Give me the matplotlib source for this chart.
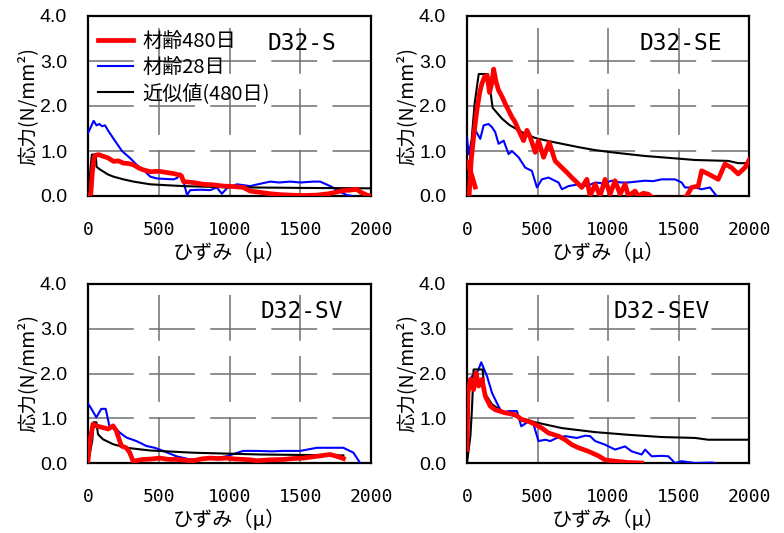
import numpy as np
import matplotlib
matplotlib.use('Agg')
import matplotlib.pyplot as plt

plt.rcParams['font.family'] = ['Noto Sans CJK JP', 'DejaVu Sans']

nan = np.nan

# D32-S
s_red_x = [0, 20, 30, 40, 50, 75, 110, 140, 180, 215, 250, 290, 322, 360, 392, 440, 500, 560, 604, 640, 660, 675,
           740, 816, 880, 958, 1030, 1099, 1146, 1220, 1288, 1360, 1430, 1520, 1617, 1700, 1759, 1800, 1853, 1900,
           1924, 1971, 2000]
s_red_y = [0.0, 0.05, 0.5, 0.8, 0.9, 0.92, 0.88, 0.85, 0.77, 0.78, 0.73, 0.72, 0.69, 0.62, 0.58, 0.54, 0.55, 0.52,
           0.50, 0.47, 0.45, 0.32, 0.30, 0.26, 0.25, 0.22, 0.21, 0.19, 0.11, 0.08, 0.05, 0.03, 0.02, 0.01, 0.02, 0.05,
           0.09, 0.12, 0.13, 0.15, 0.09, 0.02, 0.0]
s_blue_x = [0, 15, 40, 60, 80, 100, 120, 145, 192, 240, 298, 345, 392, 440, 487, 540, 604, 630, 651, 675, 700, 722,
            800, 863, 910, 946, 981, 1052, 1100, 1146, 1200, 1288, 1350, 1430, 1500, 1594, 1640, 1712, 1783, 1830, 1870]
s_blue_y = [1.4, 1.5, 1.67, 1.57, 1.6, 1.55, 1.57, 1.44, 1.22, 1.0, 0.84, 0.69, 0.58, 0.43, 0.39, 0.38, 0.37, 0.40,
            0.50, 0.32, 0.02, 0.13, 0.14, 0.13, 0.19, 0.05, 0.17, 0.26, 0.24, 0.22, 0.26, 0.32, 0.30, 0.32, 0.30, 0.32,
            0.32, 0.22, 0.09, 0.02, 0.0]
s_fit_x = [0, 27, 55, 60, 80, 110, 140, 180, 250, 322, 380, 440, 550, 675, 900, 1146, 1500, 2020]
s_fit_y = [0.0, 0.92, 0.92, 0.65, 0.6, 0.54, 0.48, 0.43, 0.37, 0.32, 0.29, 0.26, 0.24, 0.22, 0.2, 0.19, 0.18, 0.17]

# D32-SE
se_red_x = [0, 30, 58, nan, 15, 30, 50, 70, 90, 106, 125, 142, 160, 175, 189, 205, 224, 250, 271, 295, 319, 340,
            366, 401, 425, 448, 484, 507, 543, 583, 625, 673, 710, 743, 780, 814, 850, 873, 909, 944, 979, 1015,
            1050, 1086, 1121, 1145, 1192, 1215, 1250, 1286, 1320, 1540, 1558, 1593, 1640, 1664, 1711, 1782, 1829,
            1876, 1923, 1971, 2010]
se_red_y = [0.75, 0.5, 0.2, nan, 0.0, 0.8, 1.4, 1.9, 2.3, 2.5, 2.65, 2.68, 2.3, 2.5, 2.82, 2.55, 2.35, 2.2, 2.05,
            1.9, 1.75, 1.65, 1.46, 1.23, 1.46, 1.31, 0.97, 1.23, 0.86, 1.19, 0.78, 0.63, 0.52, 0.41, 0.3, 0.19,
            0.37, 0.0, 0.26, 0.0, 0.37, 0.04, 0.34, 0.04, 0.26, 0.0, 0.11, 0.0, 0.06, 0.04, -0.05, -0.05, 0.0,
            0.19, 0.22, 0.56, 0.49, 0.37, 0.71, 0.63, 0.49, 0.63, 0.85]
se_blue_x = [0, 12, 30, 59, 94, 118, 153, 177, 200, 224, 260, 295, 319, 366, 413, 460, 496, 531, 578, 649, 673,
             720, 791, 850, 909, 970, 1027, 1090, 1145, 1200, 1263, 1320, 1381, 1475, 1522, 1546, 1617, 1664,
             1723, 1770]
se_blue_y = [1.3, 0.93, 1.2, 1.46, 1.27, 1.57, 1.6, 1.53, 1.42, 1.16, 1.23, 0.93, 1.0, 0.86, 0.63, 0.56, 0.19,
             0.37, 0.41, 0.3, 0.15, 0.22, 0.26, 0.22, 0.30, 0.28, 0.34, 0.30, 0.30, 0.32, 0.34, 0.33, 0.37, 0.37,
             0.3, 0.19, 0.19, 0.15, 0.19, 0.0]
se_fit_x = [0, 54, 83, 149, 182, 248, 300, 366, 420, 484, 580, 673, 800, 909, 1030, 1145, 1260, 1381, 1500, 1617,
            1853, 1923, 2010]
se_fit_y = [0.0, 2.05, 2.71, 2.71, 1.96, 1.72, 1.58, 1.46, 1.37, 1.29, 1.22, 1.16, 1.08, 1.02, 0.97, 0.93, 0.89,
            0.86, 0.83, 0.80, 0.78, 0.73, 0.73]

# D32-SV
sv_red_x = [0, 10, 20, 35, 59, 94, 120, 142, 177, 200, 236, 271, 295, 319, 389, 450, 507, 570, 625, 690, 743, 800,
            861, 920, 979, 1040, 1097, 1150, 1192, 1280, 1381, 1450, 1522, 1617, 1711, 1758, 1805]
sv_red_y = [0.05, 0.4, 0.6, 0.87, 0.83, 0.80, 0.78, 0.76, 0.83, 0.72, 0.38, 0.34, 0.23, 0.04, 0.08, 0.09, 0.11,
            0.08, 0.08, 0.06, 0.05, 0.09, 0.11, 0.10, 0.11, 0.09, 0.08, 0.07, 0.05, 0.07, 0.08, 0.10, 0.11, 0.15,
            0.19, 0.15, 0.10]
sv_blue_x = [0, 24, 59, 94, 125, 153, 200, 224, 271, 342, 413, 472, 531, 625, 720, 800, 909, 979, 1097, 1192, 1300,
             1381, 1499, 1617, 1711, 1805, 1876, 1923]
sv_blue_y = [1.33, 1.21, 1.02, 1.21, 1.21, 0.80, 0.76, 0.68, 0.57, 0.49, 0.38, 0.34, 0.27, 0.15, 0.08, 0.08, 0.11,
             0.15, 0.27, 0.27, 0.26, 0.27, 0.27, 0.34, 0.34, 0.34, 0.23, 0.0]
sv_fit_x = [0, 30, 40, 59, 71, 106, 177, 271, 437, 743, 1215, 1805]
sv_fit_y = [0, 0.5, 0.91, 0.91, 0.64, 0.53, 0.42, 0.34, 0.28, 0.23, 0.19, 0.17]

# D32-SEV
sev_red_x = [0, 7, 24, 47, 64, 83, 106, 130, 165, 200, 271, 342, 389, 437, 484, 531, 578, 649, 696, 743, 791, 861,
             932, 979, 1050, 1145, 1239]
sev_red_y = [0.3, 1.57, 1.87, 1.64, 2.01, 1.72, 1.87, 1.49, 1.27, 1.19, 1.12, 1.08, 0.97, 0.93, 0.86, 0.78, 0.67,
             0.6, 0.52, 0.41, 0.34, 0.26, 0.16, 0.07, 0.04, 0.01, 0.0]
sev_blue_x = [0, 12, 35, 71, 101, 142, 177, 212, 248, 295, 354, 385, 437, 472, 507, 555, 590, 637, 696, 779, 838,
              873, 909, 979, 1050, 1121, 1168, 1239, 1263, 1310, 1381, 1428, 1475, 1522, 1617, 1735, 1760]
sev_blue_y = [0.3, 1.79, 1.94, 2.01, 2.25, 1.94, 1.57, 1.34, 1.12, 1.16, 1.16, 0.82, 0.93, 0.86, 0.49, 0.52, 0.49,
              0.56, 0.60, 0.56, 0.61, 0.6, 0.49, 0.41, 0.3, 0.37, 0.26, 0.19, 0.3, 0.15, 0.16, 0.15, 0.0, 0.04, 0.0,
              0.01, 0.0]
sev_fit_x = [0, 24, 35, 47, 111, 125, 177, 248, 342, 484, 673, 909, 1145, 1381, 1617, 1711, 2010]
sev_fit_y = [0, 0.6, 1.2, 2.09, 2.09, 1.57, 1.31, 1.16, 1.04, 0.91, 0.78, 0.69, 0.63, 0.58, 0.56, 0.52, 0.52]

panels = [
    ('D32-S', s_red_x, s_red_y, s_blue_x, s_blue_y, s_fit_x, s_fit_y),
    ('D32-SE', se_red_x, se_red_y, se_blue_x, se_blue_y, se_fit_x, se_fit_y),
    ('D32-SV', sv_red_x, sv_red_y, sv_blue_x, sv_blue_y, sv_fit_x, sv_fit_y),
    ('D32-SEV', sev_red_x, sev_red_y, sev_blue_x, sev_blue_y, sev_fit_x, sev_fit_y),
]
label_pos = [(0.636, 0.845), (0.613, 0.845), (0.608, 0.844), (0.518, 0.844)]

W, H = 784, 533
boxes = [(88, 16, 283, 180), (467, 16, 282, 180), (88, 284, 283, 179), (467, 284, 282, 179)]

fig = plt.figure(figsize=(W / 100, H / 100), dpi=100)

for i, (name, rx, ry, bx, by, fx, fy) in enumerate(panels):
    l, t, w, h = boxes[i]
    ax = fig.add_axes([l / W, (H - t - h) / H, w / W, h / H])
    ax.plot(bx, by, color='#0000ff', lw=1.5, label='材齢28日', zorder=3)
    ax.plot(fx, fy, color='black', lw=1.5, label='近似値(480日)', zorder=4)
    ax.plot(rx, ry, color='#ff0000', lw=3.4, label='材齢480日', zorder=5)
    ax.set_xlim(0, 2000)
    ax.set_ylim(0, 4.0)
    ax.set_xticks([0, 500, 1000, 1500, 2000])
    ax.set_yticks([0, 1, 2, 3, 4])
    ax.set_yticklabels(['0.0', '1.0', '2.0', '3.0', '4.0'], family='Liberation Sans', fontsize=14)
    ax.set_xticklabels(['0', '500', '1000', '1500', '2000'], family='DejaVu Sans Mono', fontsize=13)
    ax.tick_params(length=0)
    ax.tick_params(axis='y', pad=15)
    ax.tick_params(axis='x', pad=18)
    ax.grid(True, color='#707070', lw=1.1, linestyle=(0, (30, 10)))
    ax.set_axisbelow(True)
    for sp in ax.spines.values():
        sp.set_linewidth(1.6)
        sp.set_color('black')
    ax.set_xlabel('ひずみ（μ）', fontsize=14.5, labelpad=3)
    ax.set_ylabel('応力(N/mm²)', fontsize=14, labelpad=1)
    ax.text(label_pos[i][0], label_pos[i][1], name, transform=ax.transAxes, family='DejaVu Sans Mono',
            fontsize=16.5, va='center', ha='left')
    if i == 0:
        hs, ls = ax.get_legend_handles_labels()
        ax.legend([hs[2], hs[0], hs[1]], [ls[2], ls[0], ls[1]], loc='upper left', bbox_to_anchor=(0.035, 0.915),
                  frameon=False, fontsize=14.5, handlelength=1.75, handletextpad=0.45, labelspacing=0.25,
                  borderpad=0, borderaxespad=0)

fig.savefig('out.png', dpi=100)
